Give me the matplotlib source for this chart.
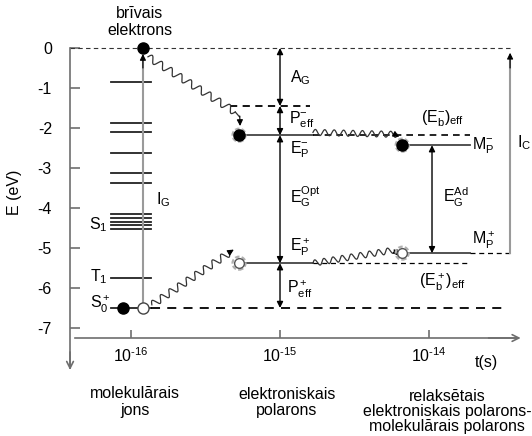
import numpy as np
import matplotlib.pyplot as plt
from matplotlib.patches import Ellipse

plt.rcParams['font.family'] = ['Liberation Sans', 'DejaVu Sans']
plt.rcParams['mathtext.fontset'] = 'custom'
plt.rcParams['mathtext.rm'] = 'Liberation Sans'
plt.rcParams['mathtext.it'] = 'Liberation Sans'
plt.rcParams['mathtext.default'] = 'regular'

# energijas, eV
e_ticks = [0, -1, -2, -3, -4, -5, -6, -7]
t_ticks = [-16, -15, -14]  # log10 t(s)
ion_levels = [-0.85, -1.87, -2.1, -2.63, -3.13, -3.38,
              -4.15, -4.25, -4.34, -4.43, -4.53, -5.75, -6.5]
E_vac = 0.0
E_S0 = -6.5
E_AG = -1.45
E_Pm = -2.18
E_Pp = -5.38
E_Mm = -2.43
E_Mp = -5.13

# kolonnu laiki (log10 t)
t_ion = -15.92
t_lvl = (-16.134, -15.866)
t_pol_dot = -15.275
t_pol = -15.0
t_pol_end = -14.779
t_rel_dot = -14.18
t_rel = -13.98
t_rel_end = -13.725
t_ic = -13.456

GRAY = '#6e6e6e'
LGRAY = '#9a9a9a'
FS = 11.5

fig = plt.figure(figsize=(5.32, 4.36), dpi=100)
ax = fig.add_axes([0, 0, 1, 1])
ax.set_xlim(-16.879, -13.309)
ax.set_ylim(-9.7, 1.2)
ax.patch.set_alpha(0)

for s in ['top', 'right']:
    ax.spines[s].set_visible(False)
ax.spines['left'].set_position(('data', -16.409))
ax.spines['left'].set_bounds(-8.0, 0)
ax.spines['bottom'].set_position(('data', -7.25))
ax.spines['bottom'].set_bounds(-16.376, -13.40)
for s in ['left', 'bottom']:
    ax.spines[s].set_color(GRAY)
    ax.spines[s].set_linewidth(1.2)

ax.set_yticks(e_ticks)
ax.set_yticklabels([str(v) for v in e_ticks])
ax.set_xticks(t_ticks)
ax.set_xticklabels([f'$10^{{{v}}}$'.replace('-', '\u2010') for v in t_ticks])
ax.tick_params(axis='y', direction='in', length=7, width=1.2, color=GRAY, pad=13, labelsize=FS)
ax.tick_params(axis='x', direction='in', length=6, width=1.2, color=GRAY, pad=6, labelsize=FS)

arr_axis = dict(arrowstyle='->', color=GRAY, lw=1.2, mutation_scale=12, shrinkA=0, shrinkB=0)
ax.annotate('', xy=(-16.409, -8.05), xytext=(-16.409, -7.6), arrowprops=arr_axis)
ax.annotate('', xy=(-13.385, -7.25), xytext=(-13.6, -7.25), arrowprops=arr_axis)


def wavy(p0, p1, n, amp, **kw):
    tr = ax.transData
    a = tr.transform(p0)
    b = tr.transform(p1)
    d = b - a
    u = d / np.hypot(*d)
    nrm = np.array([-u[1], u[0]])
    s = np.linspace(0, 1, 500)
    pts = a + np.outer(s, d) + np.outer(amp * np.sin(2 * np.pi * n * s), nrm)
    xy = tr.inverted().transform(pts)
    ax.plot(xy[:, 0], xy[:, 1], color='#333333', lw=0.9, **kw)


def head(tip, base):
    ax.annotate('', xy=tip, xytext=base,
                arrowprops=dict(arrowstyle='-|>', color='black', lw=0.8,
                                mutation_scale=9, shrinkA=0, shrinkB=0))


def ring(x, y, d=13):
    ax.add_patch(Ellipse((x, y), d / 149, d / 40, fill=False, ec='#b0b0b0',
                         lw=1.6, ls=(0, (2, 1)), zorder=4))


# molekulārais jons
for e in ion_levels:
    ax.plot(t_lvl, [e, e], color='#222222', lw=1.3)
ax.plot([-16.409, t_ic], [E_vac, E_vac], color='#333333', lw=0.8, ls=(0, (4, 3)))
ax.plot([t_lvl[1], -13.47], [E_S0, E_S0], color='black', lw=1.3, ls=(0, (5, 4)))
ax.plot([t_ion, t_ion], [E_S0, E_vac - 0.2], color=LGRAY, lw=1.5)
head((t_ion, E_vac - 0.15), (t_ion, E_vac - 0.5))
ax.plot(t_ion, E_vac, 'o', ms=8, color='black', zorder=5)
ax.plot(t_ion, E_S0, 'o', ms=8, mfc='white', mec='#444444', mew=1, zorder=5)
ax.plot(-16.054, E_S0, 'o', ms=8, color='black', zorder=5)

# elektroniskais polarons
ax.plot([-15.336, -14.799], [E_AG, E_AG], color='black', lw=1.3, ls=(0, (4, 3)))
ax.plot([t_pol_dot, t_pol_end], [E_Pm, E_Pm], color='#444444', lw=1.3)
ax.plot([t_pol_dot, t_pol_end], [E_Pp, E_Pp], color='#444444', lw=1.3)
ax.plot([t_pol_end, t_rel_end], [E_Pm, E_Pm], color='black', lw=1.2, ls=(0, (4, 3)))
ax.plot([t_pol_end, t_rel_end], [E_Pp, E_Pp], color='black', lw=0.9, ls=(0, (4, 3)))
ring(t_pol_dot, E_Pm)
ax.plot(t_pol_dot, E_Pm, 'o', ms=8, color='black', zorder=5)
ring(t_pol_dot, E_Pp)
ax.plot(t_pol_dot, E_Pp, 'o', ms=7, mfc='white', mec='#555555', mew=1, zorder=5)

arr2 = dict(arrowstyle='<|-|>', color='black', lw=1.0, mutation_scale=9, shrinkA=0, shrinkB=0)
for top, bot in [(E_vac, E_AG), (E_AG, E_Pm), (E_Pm, E_Pp), (E_Pp, E_S0)]:
    ax.annotate('', xy=(t_pol, top), xytext=(t_pol, bot), arrowprops=arr2)

# relaksētais polarons
ax.plot([t_rel_dot, t_rel_end], [E_Mm, E_Mm], color='#444444', lw=1.3)
ax.plot([t_rel_dot, t_rel_end], [E_Mp, E_Mp], color='#444444', lw=1.3)
ax.plot([t_rel_end, t_ic], [E_Mp, E_Mp], color='black', lw=0.9, ls=(0, (4, 3)))
ring(t_rel_dot, E_Mm)
ax.plot(t_rel_dot, E_Mm, 'o', ms=8, color='black', zorder=5)
ring(t_rel_dot, E_Mp)
ax.plot(t_rel_dot, E_Mp, 'o', ms=7, mfc='white', mec='#555555', mew=1, zorder=5)
ax.annotate('', xy=(t_rel, E_Mm), xytext=(t_rel, E_Mp), arrowprops=arr2)
ax.plot([t_ic, t_ic], [E_Mp, E_vac - 0.2], color=LGRAY, lw=1.5)
head((t_ic, E_vac - 0.12), (t_ic, E_vac - 0.5))

# viļņotās pārejas
wavy((-15.886, -0.22), (-15.30, -1.6), 9, 3.5)
ax.plot([-15.30, -15.272], [-1.6, -1.72], color='#333333', lw=0.9)
head((-15.268, -1.95), (-15.27, -1.7))
wavy((-15.86, E_S0 + 0.08), (-15.34, -5.12), 9, 3.5)
head((-15.31, -5.04), (-15.345, -5.12))
wavy((t_pol_end, E_Pm + 0.07), (-14.21, E_Pm + 0.02), 9, 3)
head((-14.20, E_Pm - 0.04), (-14.23, E_Pm + 0.02))
wavy((t_pol_end, E_Pp + 0.0), (-14.23, E_Pp + 0.33), 9, 3)
head((-14.20, E_Mp - 0.07), (-14.235, E_Pp + 0.33))

# teksti
ax.text(-15.94, 0.65, 'brīvais\nelektrons', ha='center', va='center', fontsize=FS, linespacing=1.1)
ax.text(-16.785, -3.6, 'E (eV)', rotation=90, ha='center', va='center', fontsize=FS)
ax.text(-15.83, -3.8, '$I_G$', ha='left', va='center', fontsize=FS)
ax.text(-16.154, -4.42, '$S_1$', ha='right', va='center', fontsize=FS)
ax.text(-16.154, -5.72, '$T_1$', ha='right', va='center', fontsize=FS)
ax.text(-16.14, -6.4, '$S^+_0$', ha='right', va='center', fontsize=FS)

ax.text(-14.933, -0.75, '$A_G$', ha='left', va='center', fontsize=FS)
ax.text(-14.94, -1.8, '$P^{-}_{eff}$', ha='left', va='center', fontsize=FS)
ax.text(-14.933, -2.55, '$E^{-}_P$', ha='left', va='center', fontsize=FS)
ax.text(-14.933, -3.72, '$E^{Opt}_G$', ha='left', va='center', fontsize=FS)
ax.text(-14.933, -4.98, '$E^+_P$', ha='left', va='center', fontsize=FS)
ax.text(-14.95, -6.03, '$P^+_{eff}$', ha='left', va='center', fontsize=FS)

ax.text(-13.91, -1.78, '$(E^{-}_b)_{eff}$', ha='center', va='center', fontsize=FS)
ax.text(-13.71, -2.45, '$M^{-}_P$', ha='left', va='center', fontsize=FS)
ax.text(-13.906, -3.73, '$E^{Ad}_G$', ha='left', va='center', fontsize=FS)
ax.text(-13.41, -2.37, '$I_C$', ha='left', va='center', fontsize=FS)
ax.text(-13.71, -4.8, '$M^+_P$', ha='left', va='center', fontsize=FS)
ax.text(-13.91, -5.87, '$(E^+_b)_{eff}$', ha='center', va='center', fontsize=FS)

ax.text(-13.617, -7.85, 't(s)', ha='center', va='center', fontsize=FS)
ax.text(-15.973, -8.85, 'molekulārais\njons', ha='center', va='center', fontsize=FS, linespacing=1.1)
ax.text(-14.953, -8.87, 'elektroniskais\npolarons', ha='center', va='center', fontsize=FS, linespacing=1.1)
ax.text(-13.879, -9.08, 'relaksētais\nelektroniskais polarons-\nmolekulārais polarons',
        ha='center', va='center', fontsize=FS, linespacing=1.0)

fig.savefig('out.png', dpi=100, facecolor='white')
